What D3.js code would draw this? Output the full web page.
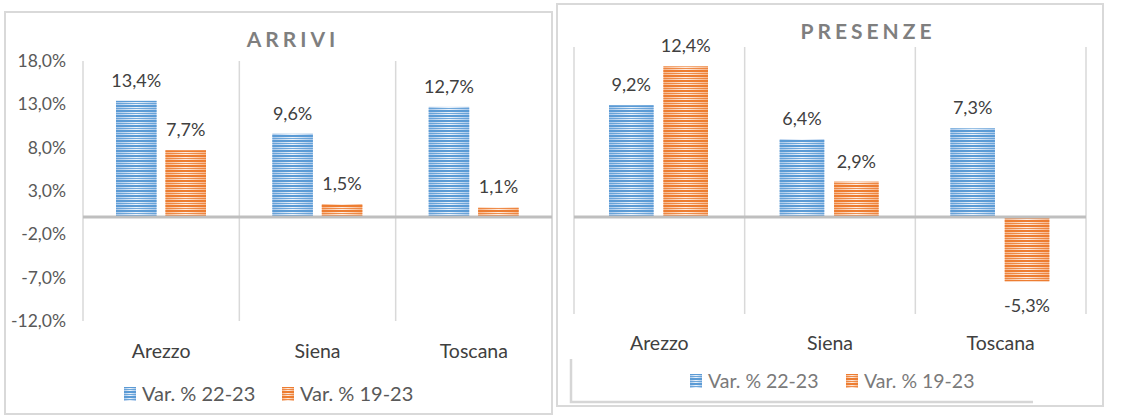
<!DOCTYPE html>
<html>
<head>
<meta charset="utf-8">
<script src="https://cdn.jsdelivr.net/npm/d3@7"></script>
<style>
  body { margin: 0; background: #fff; }
  svg text { font-family: Lato, "Noto Sans", sans-serif; }
</style>
</head>
<body>
<div class="visualization"></div>
<script>
// data
const categories = ["Arezzo", "Siena", "Toscana"];
const seriesNames = ["Var. % 22-23", "Var. % 19-23"];
const arrivi2223 = [13.4, 9.6, 12.7];
const arrivi1923 = [7.7, 1.5, 1.1];
const presenze2223 = [9.2, 6.4, 7.3];
const presenze1923 = [12.4, 2.9, -5.3];
const arriviTicks = [18, 13, 8, 3, -2, -7, -12];

const fmt = v => v.toFixed(1).replace(".", ",") + "%";

const svg = d3.select(".visualization")
    .append("svg")
    .attr("width", 1122)
    .attr("height", 418);

// striped fills with a soft glow in the middle of each bar
const defs = svg.append("defs");
const colors = [
    { id: "blue", line: "#5b9bd5", edge: "#a9c8ea", mid: "#eef4fb" },
    { id: "orange", line: "#ed7d31", edge: "#f6b58a", mid: "#fdeee4" }
];
colors.forEach(c => {
    const g = defs.append("linearGradient")
        .attr("id", "grad-" + c.id)
        .attr("x1", "0").attr("x2", "1").attr("y1", "0").attr("y2", "0");
    g.append("stop").attr("offset", "0%").attr("stop-color", c.edge);
    g.append("stop").attr("offset", "50%").attr("stop-color", c.mid);
    g.append("stop").attr("offset", "100%").attr("stop-color", c.edge);

    const p = defs.append("pattern")
        .attr("id", "stripe-" + c.id)
        .attr("patternUnits", "userSpaceOnUse")
        .attr("width", 8).attr("height", 5);
    p.append("rect").attr("width", 8).attr("height", 2).attr("fill", c.line);
    p.append("rect").attr("y", 3).attr("width", 8).attr("height", 1).attr("fill", c.line).attr("opacity", 0.85);
});

function drawPanel(o) {
    const g = svg.append("g");

    // outer frame
    g.append("rect")
        .attr("x", o.frame[0]).attr("y", o.frame[1])
        .attr("width", o.frame[2]).attr("height", o.frame[3])
        .attr("fill", "none").attr("stroke", "#d9d9d9").attr("stroke-width", 2);

    const x = d3.scaleBand().domain(categories).range(o.xRange);
    const xs = d3.scaleBand().domain(seriesNames)
        .range(o.subRange).paddingInner(0.18);
    const y = d3.scaleLinear().domain(o.yDomain).range(o.yRange);

    // title
    g.append("text")
        .attr("x", o.titleX).attr("y", o.titleY)
        .attr("text-anchor", "middle")
        .attr("font-size", 21).attr("font-weight", 700)
        .attr("letter-spacing", 4)
        .attr("fill", "#7f7f7f")
        .text(o.title);

    // vertical gridlines between categories
    const edges = categories.map(c => x(c)).concat([o.xRange[1]]);
    g.selectAll(".grid").data(edges).join("line")
        .attr("x1", d => d).attr("x2", d => d)
        .attr("y1", o.yRange[1]).attr("y2", o.yRange[0])
        .attr("stroke", "#d9d9d9").attr("stroke-width", 1.5);

    // y tick labels
    if (o.ticks) {
        g.selectAll(".tick").data(o.ticks).join("text")
            .attr("x", o.tickX).attr("y", d => y(d) + 6)
            .attr("text-anchor", "end")
            .attr("font-size", 17.5).attr("fill", "#595959")
            .text(fmt);
    }

    // bars
    const rows = [];
    o.series.forEach((vals, si) => vals.forEach((v, ci) =>
        rows.push({ s: seriesNames[si], c: categories[ci], v: v, col: colors[si].id })));

    const bx = d => x(d.c) + xs(d.s);
    const by = d => y(Math.max(0, d.v));
    const bh = d => Math.abs(y(d.v) - y(0));

    g.selectAll(".bar-bg").data(rows).join("rect")
        .attr("x", bx).attr("y", by)
        .attr("width", xs.bandwidth()).attr("height", bh)
        .attr("fill", d => "url(#grad-" + d.col + ")");
    g.selectAll(".bar-st").data(rows).join("rect")
        .attr("x", bx).attr("y", by)
        .attr("width", xs.bandwidth()).attr("height", bh)
        .attr("fill", d => "url(#stripe-" + d.col + ")");

    // zero line
    g.append("line")
        .attr("x1", o.xRange[0]).attr("x2", o.xRange[1])
        .attr("y1", y(0)).attr("y2", y(0))
        .attr("stroke", "#bfbfbf").attr("stroke-width", 3);

    // data labels
    g.selectAll(".lbl").data(rows).join("text")
        .attr("x", d => bx(d) + xs.bandwidth() / 2)
        .attr("y", d => d.v >= 0 ? y(d.v) - 14 : y(d.v) + 31)
        .attr("text-anchor", "middle")
        .attr("font-size", 18).attr("fill", "#404040")
        .text(d => fmt(d.v));

    // category labels
    g.selectAll(".cat").data(categories).join("text")
        .attr("x", d => x(d) + x.bandwidth() / 2)
        .attr("y", o.catY)
        .attr("text-anchor", "middle")
        .attr("font-size", 19.5).attr("fill", "#404040")
        .text(d => d);

    // legend
    const leg = g.selectAll(".leg").data(seriesNames).join("g")
        .attr("transform", (d, i) => `translate(${o.legendX[i]},${o.legendY})`);
    leg.append("rect")
        .attr("x", 0).attr("y", -14).attr("width", 12).attr("height", 14)
        .attr("fill", (d, i) => "url(#grad-" + colors[i].id + ")");
    leg.append("rect")
        .attr("x", 0).attr("y", -14).attr("width", 12).attr("height", 14)
        .attr("fill", (d, i) => "url(#stripe-" + colors[i].id + ")");
    leg.append("text")
        .attr("x", 18).attr("y", 0)
        .attr("font-size", o.legendSize).attr("fill", o.legendColor)
        .text(d => d);

    return g;
}

drawPanel({
    title: "ARRIVI", titleX: 293, titleY: 47,
    frame: [5, 12, 547, 402],
    xRange: [83, 552], subRange: [33, 123],
    yDomain: [-12, 18], yRange: [321, 61],
    ticks: arriviTicks, tickX: 66,
    series: [arrivi2223, arrivi1923],
    catY: 358, legendX: [124, 282], legendY: 401,
    legendSize: 20, legendColor: "#595959"
});

const right = drawPanel({
    title: "PRESENZE", titleX: 868, titleY: 39,
    frame: [557, 4, 546, 402],
    xRange: [574, 1086], subRange: [35, 134],
    yDomain: [-8, 14], yRange: [314, 47],
    ticks: null,
    series: [presenze2223, presenze1923],
    catY: 350, legendX: [690, 846], legendY: 388,
    legendSize: 19.5, legendColor: "#7a7a7a"
});

// inner legend box edge in the right panel
right.append("path")
    .attr("d", "M571,359 L571,402 L1033,402")
    .attr("fill", "none").attr("stroke", "#d6d6d6").attr("stroke-width", 2.5);
</script>
</body>
</html>
